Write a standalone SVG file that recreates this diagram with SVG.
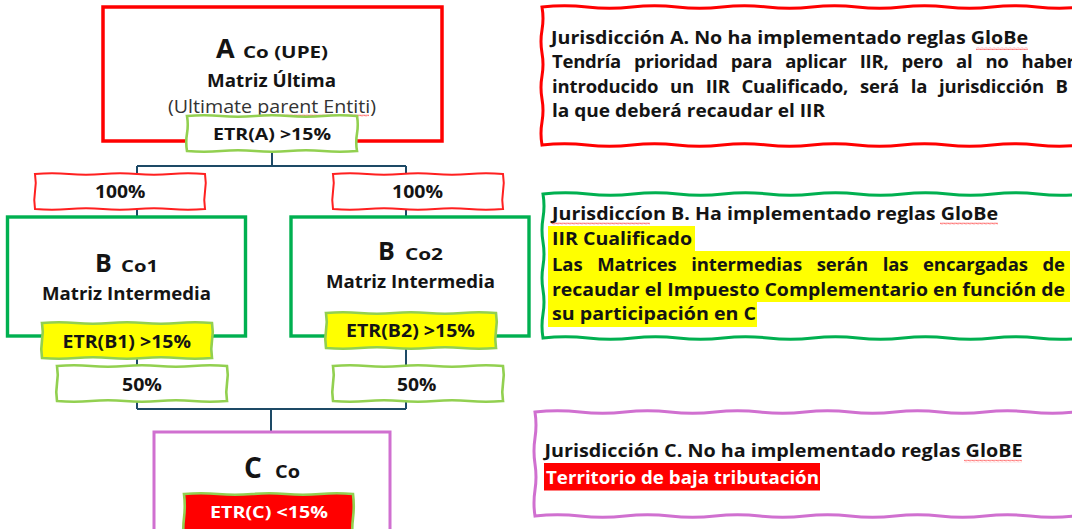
<svg xmlns="http://www.w3.org/2000/svg" width="1072" height="529" viewBox="0 0 1072 529">
<style>
.t{font-family:"Open Sans","Liberation Sans",Arial,sans-serif;font-weight:700;fill:#141414;}
.n{font-weight:400;fill:#333;}
.w{fill:#fff;}
.conn{fill:none;stroke:#1d4a66;stroke-width:2;}
.boxA{fill:#fff;stroke:#ff0000;stroke-width:3.5;}
.boxB{fill:#fff;stroke:#00b050;stroke-width:3.4;}
.boxC{fill:#fff;stroke:#d070d0;stroke-width:3;}
.lg{fill:#fff;stroke:#92d050;stroke-width:2.6;}
.lr{fill:#fff;stroke:#ff2020;stroke-width:2;}
.ly{fill:#ffff00;stroke:#92d050;stroke-width:2.6;}
.lred{fill:#ff0000;stroke:#92d050;stroke-width:2.6;}
.jA{fill:#fff;stroke:#ff0000;stroke-width:3;}
.jB{fill:#fff;stroke:#00b050;stroke-width:3;}
.jC{fill:#fff;stroke:#d070d0;stroke-width:3;}
.hy{fill:#ffff00;}
.hr{fill:#ff0000;}
.sq{fill:url(#squig);}
</style>
<defs>
<path id="wl" d="M0 0 q17 -1.5 34 0 t34 0 t34 0 t34 0 t34 0 q1.5 8.75 0 17.5 t0 17.5 q-17 1.5 -34 0 t-34 0 t-34 0 t-34 0 t-34 0 q-1.5 -8.75 0 -17.5 t0 -17.5 z"/>
<pattern id="squig" width="4" height="3" patternUnits="userSpaceOnUse"><path d="M0 2.2 L1 0.8 L2 2.2 L3 0.8 L4 2.2" stroke="#ff2a2a" stroke-width="1" fill="none" stroke-dasharray="1 0.6"/></pattern>
</defs>
<rect width="1072" height="529" fill="#fff"/>

<g id="connectors">
<path class="conn" d="M272 150 V166 M137 166 H406 M137 166 V217 M406 166 V217 M137 336 V409 M406 336 V409 M137 409 H406 M271 409 V432"/>
</g>

<g id="nodeA">
<rect class="boxA" x="103" y="7" width="339" height="134"/>
<text class="t" x="216" y="58" font-size="27">A</text>
<text class="t" x="243" y="58" font-size="16.5" textLength="85" lengthAdjust="spacingAndGlyphs">Co (UPE)</text>
<text class="t" x="207" y="87" font-size="17" textLength="129" lengthAdjust="spacingAndGlyphs">Matriz Última</text>
<text class="t n" x="168" y="112.5" font-size="18" textLength="208" lengthAdjust="spacingAndGlyphs">(Ultimate parent Entiti)</text>
<rect class="sq" x="259" y="114" width="110" height="3"/>
</g>
<g id="etrA">
<use href="#wl" class="lg" x="187" y="116"/>
<text class="t" x="213" y="140" font-size="16.5" textLength="118" lengthAdjust="spacingAndGlyphs">ETR(A) &gt;15%</text>
</g>

<g id="pct100L">
<use href="#wl" class="lr" x="35" y="174"/>
<text class="t" x="95" y="198" font-size="17" textLength="50.5" lengthAdjust="spacingAndGlyphs">100%</text>
</g>
<g id="pct100R">
<use href="#wl" class="lr" x="333" y="174"/>
<text class="t" x="392" y="198" font-size="17" textLength="51" lengthAdjust="spacingAndGlyphs">100%</text>
</g>

<g id="nodeB1">
<rect class="boxB" x="7.5" y="217" width="238" height="119"/>
<text class="t" x="95" y="271.5" font-size="25">B</text>
<text class="t" x="121" y="271.5" font-size="16" textLength="37" lengthAdjust="spacingAndGlyphs">Co1</text>
<text class="t" x="42" y="300" font-size="17.5" textLength="169" lengthAdjust="spacingAndGlyphs">Matriz Intermedia</text>
</g>
<g id="etrB1">
<use href="#wl" class="ly" x="42" y="323"/>
<text class="t" x="62.5" y="347.5" font-size="17" textLength="128.5" lengthAdjust="spacingAndGlyphs">ETR(B1) &gt;15%</text>
</g>

<g id="nodeB2">
<rect class="boxB" x="291" y="217" width="238" height="119"/>
<text class="t" x="378" y="260" font-size="25">B</text>
<text class="t" x="405" y="260" font-size="16" textLength="38" lengthAdjust="spacingAndGlyphs">Co2</text>
<text class="t" x="326" y="288" font-size="17.5" textLength="169" lengthAdjust="spacingAndGlyphs">Matriz Intermedia</text>
</g>
<g id="etrB2">
<use href="#wl" class="ly" x="326" y="313"/>
<text class="t" x="346" y="337" font-size="17" textLength="129" lengthAdjust="spacingAndGlyphs">ETR(B2) &gt;15%</text>
</g>

<g id="pct50L">
<use href="#wl" class="lg" x="57" y="366"/>
<text class="t" x="122" y="391" font-size="17" textLength="40" lengthAdjust="spacingAndGlyphs">50%</text>
</g>
<g id="pct50R">
<use href="#wl" class="lg" x="333" y="366"/>
<text class="t" x="397" y="391" font-size="17" textLength="39.5" lengthAdjust="spacingAndGlyphs">50%</text>
</g>

<g id="nodeC">
<rect class="boxC" x="154" y="432" width="236" height="110"/>
<text class="t" x="244" y="478" font-size="28">C</text>
<text class="t" x="275" y="478" font-size="17" textLength="25" lengthAdjust="spacingAndGlyphs">Co</text>
</g>
<g id="etrC">
<path class="lred" d="M184 494 q17 -1.5 34 0 t34 0 t34 0 t34 0 t33 0 q1.5 12 0 24 t0 24 L184 542 q-1.5 -12 0 -24 t0 -24 z"/>
<text class="t w" x="210" y="518" font-size="16.5" textLength="118" lengthAdjust="spacingAndGlyphs">ETR(C) &lt;15%</text>
</g>

<g id="jurA">
<path class="jA" d="M542 7 q22.5 -2.5 45 0 t45 0 t45 0 t45 0 t45 0 t45 0 t45 0 t45 0 t45 0 t45 0 t45 0 t45 0 L1090 7 L1090 145 L1082 145 q-22.5 2.5 -45 0 t-45 0 t-45 0 t-45 0 t-45 0 t-45 0 t-45 0 t-45 0 t-45 0 t-45 0 t-45 0 t-45 0 q-2 -11.5 0 -23 t0 -23 t0 -23 t0 -23 t0 -23 t0 -23 z"/>
<text class="t" x="551" y="43.5" font-size="18.5" textLength="477" lengthAdjust="spacingAndGlyphs">Jurisdicción A. No ha implementado reglas GloBe</text>
<rect class="sq" x="976" y="47" width="52" height="3"/>
<text class="t" x="552" y="68" font-size="18.5" word-spacing="8.5" textLength="523" lengthAdjust="spacing">Tendría prioridad para aplicar IIR, pero al no haber</text>
<text class="t" x="552" y="92.5" font-size="18.5" word-spacing="7" textLength="516" lengthAdjust="spacing">introducido un IIR Cualificado, será la jurisdicción B</text>
<text class="t" x="552" y="117" font-size="18.5" textLength="273" lengthAdjust="spacingAndGlyphs">la que deberá recaudar el IIR</text>
</g>

<g id="jurB">
<path class="jB" d="M543 194 q22.5 -2.5 45 0 t45 0 t45 0 t45 0 t45 0 t45 0 t45 0 t45 0 t45 0 t45 0 t45 0 t45 0 L1090 194 L1090 338 L1083 338 q-22.5 2.5 -45 0 t-45 0 t-45 0 t-45 0 t-45 0 t-45 0 t-45 0 t-45 0 t-45 0 t-45 0 t-45 0 t-45 0 q-2 -12 0 -24 t0 -24 t0 -24 t0 -24 t0 -24 t0 -24 z"/>
<rect class="hy" x="548" y="226" width="147" height="25"/>
<rect class="hy" x="548" y="251" width="522" height="51"/>
<rect class="hy" x="548" y="302" width="209" height="25"/>
<text class="t" x="552" y="219.5" font-size="18.5" textLength="446" lengthAdjust="spacingAndGlyphs">Jurisdiccíon B. Ha implementado reglas GloBe</text>
<rect class="sq" x="552" y="222" width="98" height="3"/>
<rect class="sq" x="940" y="222" width="58" height="3"/>
<text class="t" x="552" y="245" font-size="18.5" textLength="140" lengthAdjust="spacingAndGlyphs">IIR Cualificado</text>
<text class="t" x="552" y="270.5" font-size="18.5" word-spacing="10" textLength="513" lengthAdjust="spacing">Las Matrices intermedias serán las encargadas de</text>
<text class="t" x="552" y="295.5" font-size="18.5" textLength="513" lengthAdjust="spacingAndGlyphs">recaudar el Impuesto Complementario en función de</text>
<text class="t" x="552" y="320" font-size="18.5" textLength="204" lengthAdjust="spacingAndGlyphs">su participación en C</text>
</g>

<g id="jurC">
<path class="jC" d="M535 412 q22.5 -2.5 45 0 t45 0 t45 0 t45 0 t45 0 t45 0 t45 0 t45 0 t45 0 t45 0 t45 0 t45 0 L1090 412 L1090 516 L1075 516 q-22.5 2.5 -45 0 t-45 0 t-45 0 t-45 0 t-45 0 t-45 0 t-45 0 t-45 0 t-45 0 t-45 0 t-45 0 t-45 0 q-2 -13 0 -26 t0 -26 t0 -26 t0 -26 z"/>
<text class="t" x="544.5" y="457" font-size="18.5" textLength="478" lengthAdjust="spacingAndGlyphs">Jurisdicción C. No ha implementado reglas GloBE</text>
<rect class="sq" x="964" y="459.5" width="58" height="3"/>
<rect class="hr" x="544" y="463" width="276" height="27.5"/>
<text class="t w" x="546" y="484" font-size="18.5" textLength="273" lengthAdjust="spacingAndGlyphs">Territorio de baja tributación</text>
</g>
</svg>
